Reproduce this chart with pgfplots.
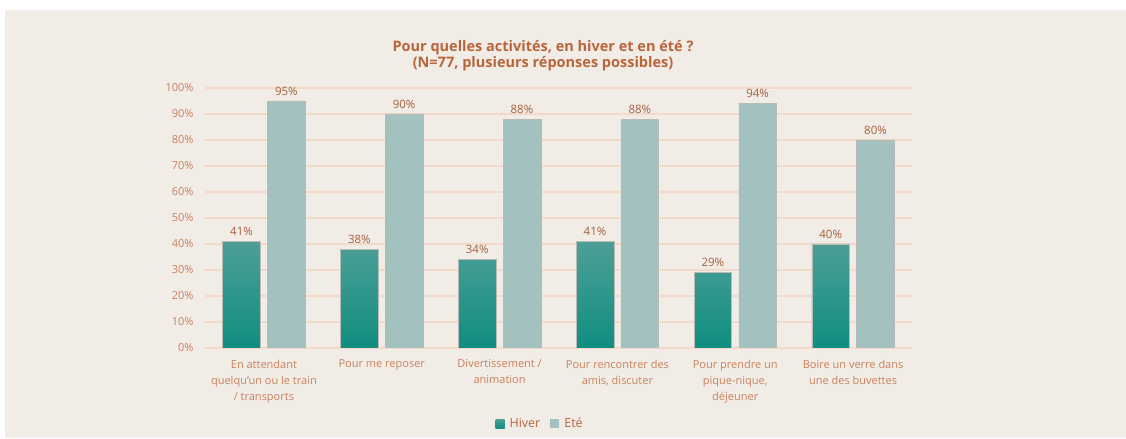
\documentclass[border=0pt]{standalone}
\usepackage{fontspec}
\setmainfont{Open Sans}
\usepackage{pgfplots}
\pgfplotsset{compat=1.18}
\definecolor{bg}{HTML}{F1ECE6}
\definecolor{gridc}{HTML}{F2D9CA}
\definecolor{titlec}{HTML}{B9653A}
\definecolor{tickc}{HTML}{C9825C}
\definecolor{valc}{HTML}{A4613D}
\definecolor{hivtop}{HTML}{4D9F97}
\definecolor{hivbot}{HTML}{0F8E80}
\definecolor{ete}{HTML}{A3C1BF}
\definecolor{edge}{HTML}{B9BBB6}
\begin{document}
\begin{tikzpicture}[x=1bp,y=1bp]
\fill[white] (0,0) rectangle (1126,439);
\fill[bg] (5,1) rectangle (1126,429);
\node[font=\fontsize{14.5bp}{16.5bp}\selectfont\bfseries, text=titlec, align=center] at (543,383.5) {Pour quelles activités, en hiver et en été ?\\(N=77, plusieurs réponses possibles)};
\begin{axis}[
  at={(205bp,91bp)}, anchor=south west,
  scale only axis, width=707bp, height=260bp,
  ymin=0, ymax=100, xmin=-0.5, xmax=5.5,
  ytick={0,10,...,100},
  yticklabel={\pgfmathprintnumber{\tick}\%},
  /pgf/number format/assume math mode=true,
  xtick={0,...,5},
  xticklabels={{En attendant\\quelqu’un ou le train\\/ transports},{Pour me reposer},{Divertissement /\\animation},{Pour rencontrer des\\amis, discuter},{Pour prendre un\\pique-nique,\\déjeuner},{Boire un verre dans\\une des buvettes}},
  xticklabel style={align=center, font=\fontsize{11bp}{16bp}\selectfont, text=tickc, yshift=-4bp},
  yticklabel style={font=\fontsize{11bp}{13bp}\selectfont, text=tickc, xshift=-8bp},
  axis line style={draw=none},
  tick style={draw=none},
  ymajorgrids, grid style={color=gridc, line width=1.3bp},
  ybar, bar width=0.32,
  nodes near coords={\pgfmathprintnumber{\pgfplotspointmeta}\%},
  every node near coord/.append style={font=\fontsize{11.5bp}{13bp}\selectfont, text=valc, yshift=2bp},
  legend columns=2,
  legend style={at={(0.474,-0.292)}, anchor=center, draw=none, fill=none, font=\fontsize{12.5bp}{14bp}\selectfont, text=titlec, /tikz/every even column/.append style={column sep=8bp}},
  legend image code/.code={\path[#1, draw=none] (0bp,-4.5bp) rectangle (9bp,4.5bp); \path[draw=none] (12bp,0bp);},
]
\addplot[bar shift=-0.19, top color=hivtop, bottom color=hivbot, draw=edge, line width=0.5bp] coordinates {(0,41) (1,38) (2,34) (3,41) (4,29) (5,40)};
\addplot[bar shift=0.19, fill=ete, draw=edge, line width=0.5bp] coordinates {(0,95) (1,90) (2,88) (3,88) (4,94) (5,80)};
\legend{Hiver,Eté}
\end{axis}
\end{tikzpicture}
\end{document}
